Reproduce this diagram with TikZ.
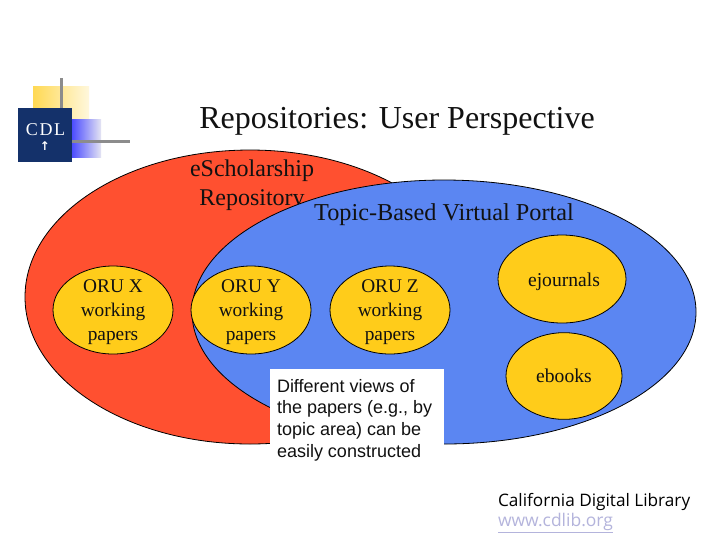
\documentclass[tikz,border=0pt]{standalone}
\usepackage{fontspec}
\setmainfont{Liberation Serif}
\setsansfont{Liberation Sans}
\newfontfamily\tahomaish{Open Sans}
\newfontfamily\arrowfont{DejaVu Sans}
\definecolor{cdlred}{HTML}{FF5030}
\definecolor{cdlblue}{HTML}{5B86F2}
\definecolor{cdlyellow}{HTML}{FFCC1A}
\definecolor{cdlnavy}{HTML}{14316A}
\definecolor{cdlgray}{HTML}{8C8C8C}
\definecolor{cdlink}{HTML}{111111}
\definecolor{cdllink}{HTML}{B4B4DC}
\usetikzlibrary{shapes.geometric}
\tikzset{
  px/.style={x=0.75pt,y=-0.75pt},
  big/.style={ellipse,draw=black,line width=0.6pt,inner sep=0pt,outer sep=0pt},
  oru/.style={big,fill=cdlyellow,minimum width=90pt,minimum height=66pt},
  orutext/.style={lab,align=center,font=\fontsize{14.5}{18}\selectfont},
  lab/.style={inner sep=0pt,outer sep=0pt,text=cdlink},
}
\begin{document}
\begin{tikzpicture}[px]
\useasboundingbox (0,0) rectangle (720,540);
\fill[white] (0,0) rectangle (720,540);
% logo
\fill[left color=cdlyellow!75,right color=cdlyellow!15] (33,86) rectangle (89,150);
\fill[left color=blue!70!white,right color=cdllink!35] (72,119) rectangle (101,157);
\fill[cdlgray] (60,78) rectangle (63,112);
\fill[cdlgray] (60,139.5) rectangle (130,142.5);
\node[rectangle,fill=cdlnavy,minimum width=40.5pt,minimum height=40.5pt,inner sep=0pt] (logo) at (45,135) {};
\node[lab,text=white,font=\fontsize{13.5}{15}\selectfont] (cdl) at (45.5,130) {C\kern1.3pt D\kern1.3pt L};
\node[lab,text=white,font=\arrowfont\bfseries\fontsize{9}{10}\selectfont] (arrow) at (45,146) {↑};
% title
\node[lab,font=\fontsize{24}{28}\selectfont,anchor=center] (title) at (397,121) {Repositories: User Perspective};
% big ellipses
\node[big,fill=cdlred,minimum width=337.5pt,minimum height=220.5pt] (red) at (250,297) {};
\node[lab,align=center,font=\fontsize{18}{21.8}\selectfont] (esch) at (252,185) {eScholarship\\Repository};
\node[big,fill=cdlblue,minimum width=378pt,minimum height=198pt] (blue) at (444,312) {};
\node[lab,font=\fontsize{18.2}{22}\selectfont] (topic) at (444,215) {Topic-Based Virtual Portal};
% small ellipses
\node[oru] (x) at (113,310) {};
\node[oru] (y) at (251,310) {};
\node[oru] (z) at (390,310) {};
\node[orutext] (xt) at (x.center) [yshift=-1.5pt] {ORU X\\working\\papers};
\node[orutext] (yt) at (y.center) [yshift=-1.5pt] {ORU Y\\working\\papers};
\node[orutext] (zt) at (z.center) [yshift=-1.5pt] {ORU Z\\working\\papers};
\node[oru,minimum width=96pt] (ej) at (562,279) {};
\node[lab,font=\fontsize{14.7}{18}\selectfont] (ejt) at (564,282) {ejournals};
\node[oru,minimum width=87pt,minimum height=65pt] (eb) at (564,376) {};
\node[lab,font=\fontsize{14.7}{18}\selectfont] (ebt) at (564,376) {ebooks};
% note
\node[rectangle,fill=white,inner sep=0pt,minimum width=130.5pt,minimum height=72pt] (notebox) at (357,417) {};
\node[lab,anchor=north west,align=left,font=\sffamily\fontsize{13.5}{16.4}\selectfont] (note) at (277,379) {Different views of\\the papers (e.g., by\\topic area) can be\\easily constructed};
% footer
\node[lab,anchor=west,font=\tahomaish\fontsize{12.9}{15}\selectfont,text=black] (cdlfoot) at (498,502) {California Digital Library};
\node[lab,anchor=west,font=\tahomaish\fontsize{13.1}{15}\selectfont,text=cdllink] (www) at (498,523) {\underline{www.cdlib.org}};
\end{tikzpicture}
\end{document}
